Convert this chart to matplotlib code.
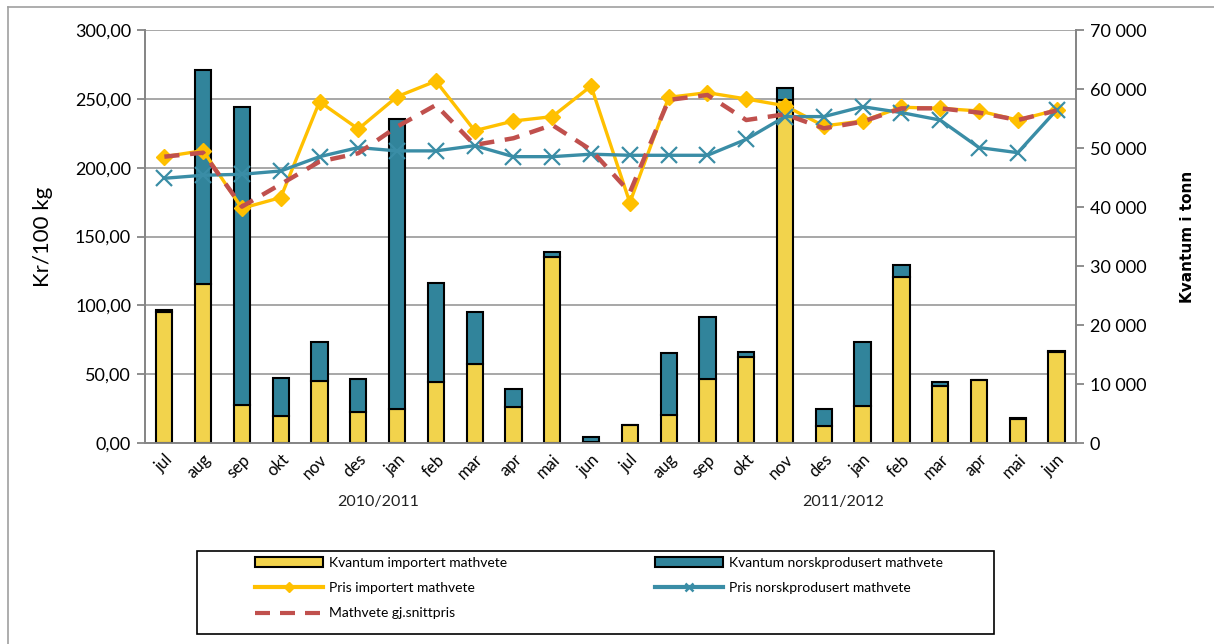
import numpy as np
import matplotlib.pyplot as plt
from matplotlib.lines import Line2D
from matplotlib.patches import Rectangle
from matplotlib.ticker import FuncFormatter

plt.rcParams['font.family'] = ['Lato', 'DejaVu Sans']

months = ['jul', 'aug', 'sep', 'okt', 'nov', 'des', 'jan', 'feb', 'mar', 'apr', 'mai', 'jun'] * 2
seasons = ['2010/2011', '2011/2012']

# tonn
kvantum_import = [22200, 26900, 6500, 4500, 10500, 5300, 5700, 10300, 13400, 6100, 31500, 200,
                  3000, 4800, 10800, 14500, 58100, 2800, 6300, 28200, 9700, 10600, 4100, 15500]
kvantum_norsk = [300, 36300, 50500, 6500, 6700, 5500, 49200, 16900, 8800, 3100, 900, 800,
                 100, 10400, 10600, 1000, 2000, 2900, 10900, 1900, 700, 100, 100, 100]

# kr/100 kg
pris_import = [208.0, 212.4, 170.5, 178.3, 247.9, 228.1, 251.6, 262.9, 226.9, 233.9, 237.1, 259.3,
               174.6, 251.1, 254.5, 249.9, 245.0, 230.3, 233.9, 243.9, 243.1, 241.2, 234.6, 241.9]
pris_norsk = [192.3, 194.5, 195.2, 197.6, 208.0, 214.6, 212.2, 212.2, 216.0, 208.0, 208.0, 209.8,
              209.0, 209.0, 209.0, 220.6, 237.1, 237.1, 244.3, 240.0, 234.6, 214.6, 210.9, 241.9]
snittpris = [208.0, 210.9, 171.7, 188.0, 204.4, 210.5, 229.8, 245.5, 216.5, 221.4, 231.0, 212.9,
             182.0, 249.2, 252.8, 234.6, 238.8, 228.6, 233.4, 243.1, 243.1, 240.0, 234.6, 241.5]

yellow_bar = '#F2D34C'
teal_bar = '#31849B'
yellow_line = '#FFC000'
teal_line = '#3A8DA6'
red_line = '#C0504D'
grid_col = '#A0A0A0'

fig = plt.figure(figsize=(12.14, 6.44), dpi=100)
ax = fig.add_axes([0.1194, 0.3121, 0.7669, 0.6413])
ax2 = ax.twinx()

x = np.arange(len(months))

# bars on the right axis, behind the lines
b1 = ax2.bar(x, kvantum_import, width=0.42, color=yellow_bar, edgecolor='black', linewidth=1.5,
             label='Kvantum importert mathvete', zorder=3)
b2 = ax2.bar(x, kvantum_norsk, width=0.42, bottom=kvantum_import, color=teal_bar, edgecolor='black',
             linewidth=1.5, label='Kvantum norskprodusert mathvete', zorder=3)
ax2.set_ylim(0, 70000)
ax2.set_yticks(np.arange(0, 70001, 10000))
ax2.yaxis.set_major_formatter(FuncFormatter(lambda v, p: f'{int(v):,}'.replace(',', ' ')))

# gridlines follow the left axis ticks
left_ticks = np.arange(0, 301, 50)
for t in left_ticks:
    ax2.axhline(t * 70000 / 300, color=grid_col, lw=1.3, zorder=1)

ax.set_zorder(ax2.get_zorder() + 1)
ax.patch.set_visible(False)

ax.plot(x, pris_import, color=yellow_line, lw=2.4, marker='D', ms=8, mec=yellow_line, zorder=4)
ax.plot(x, pris_norsk, color=teal_line, lw=2.4, marker='x', ms=11, mew=1.6, zorder=4)
ax.plot(x, snittpris, color=red_line, lw=3.2, ls=(0, (3.4, 2.4)), zorder=5)

ax.set_ylim(0, 300)
ax.set_yticks(left_ticks)
ax.yaxis.set_major_formatter(FuncFormatter(lambda v, p: f'{v:.2f}'.replace('.', ',')))
ax.set_xlim(-0.5, len(months) - 0.5)
ax.set_xticks(x)
ax.set_xticklabels(months, rotation=45, ha='right', rotation_mode='anchor', fontsize=12)

for a in (ax, ax2):
    for s in a.spines.values():
        s.set_color('#868686')
        s.set_linewidth(1.3)
    a.spines['top'].set_visible(False)
    a.tick_params(axis='y', color='#868686', width=1.3, length=6, labelsize=13, pad=4)
ax.tick_params(axis='x', length=0, pad=6)

ax.set_ylabel('Kr/100 kg', fontsize=16, labelpad=16)
ax2.set_ylabel('Kvantum i tonn', fontdict={'family': 'DejaVu Sans', 'weight': 'bold', 'size': 11},
               labelpad=24)

# season labels under the month labels
for i, s in enumerate(seasons):
    ax.text(5.5 + 12 * i, -0.143, s, transform=ax.get_xaxis_transform(), ha='center', va='center',
            fontsize=11.5, color='#222222')

# legend: two columns with a separate frame
h_imp = b1.patches[0]
h_nor = b2.patches[0]
h_pimp = Line2D([], [], color=yellow_line, lw=3, marker='D', ms=5, mec=yellow_line)
h_pnor = Line2D([], [], color=teal_line, lw=3, marker='x', ms=6, mew=1.8)
h_snitt = Line2D([], [], color=red_line, lw=3, ls=(0, (3.6, 2.4)))

leg_kw = dict(loc='upper left', frameon=False, fontsize=10, handlelength=4.9, handletextpad=0.45,
              labelspacing=0.95, borderpad=0, borderaxespad=0)
leg1 = fig.legend([h_imp, h_pimp, h_snitt],
                  ['Kvantum importert mathvete', 'Pris importert mathvete', 'Mathvete gj.snittpris'],
                  bbox_to_anchor=(255 / 1214, 1 - 557 / 644), **leg_kw)
leg2 = fig.legend([h_nor, h_pnor],
                  ['Kvantum norskprodusert mathvete', 'Pris norskprodusert mathvete'],
                  bbox_to_anchor=(655 / 1214, 1 - 557 / 644), **leg_kw)
fig.add_artist(Rectangle((197 / 1214, 1 - 634 / 644), (994 - 197) / 1214, (634 - 551) / 644,
                         transform=fig.transFigure, fill=False, edgecolor='black', lw=1.2))

# outer chart border
fig.add_artist(Line2D([0.0066, 1.0], [0.989, 0.989], transform=fig.transFigure, color='#A0A0A0', lw=1.2))
fig.add_artist(Line2D([0.0066, 0.0066], [0.0, 0.989], transform=fig.transFigure, color='#A0A0A0', lw=1.2))

fig.savefig('out.png', dpi=100)
